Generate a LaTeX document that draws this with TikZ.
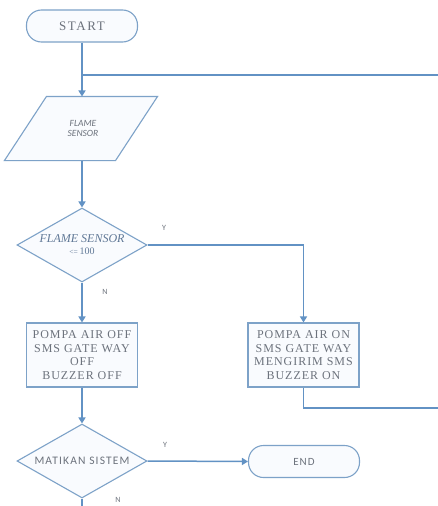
\documentclass[tikz,border=0pt]{standalone}
\usepackage{fontspec}
\setmainfont{Liberation Serif}
\setsansfont{Carlito}
\newfontfamily\spacedsans[LetterSpace=10]{Carlito}
\newfontfamily\spacedserif[LetterSpace=8]{Liberation Serif}
\newfontfamily\startserif[LetterSpace=12]{Liberation Serif}
\usetikzlibrary{shapes.geometric,arrows.meta}
\definecolor{lc}{RGB}{98,146,196}
\definecolor{bc}{RGB}{125,162,200}
\definecolor{tc}{RGB}{108,114,124}
\definecolor{dtc}{RGB}{96,120,150}
\definecolor{fc}{RGB}{249,251,254}
\begin{document}
\begin{tikzpicture}[x=1pt,y=-1pt,
  shapebox/.style={draw=bc, line width=1.1pt, fill=fc, text=tc, align=center, inner sep=0pt},
  term/.style={shapebox, rounded corners=15pt, minimum width=111pt, minimum height=32pt},
  proc/.style={shapebox, minimum width=111pt, minimum height=64pt, font=\spacedserif\fontsize{12}{13.5}\selectfont},
  dec/.style={shapebox, diamond, aspect=1.76, minimum width=130pt, minimum height=74pt},
  conn/.style={draw=lc, line width=1.5pt},
  arr/.style={conn, -{Triangle[width=7pt,length=6pt]}},
  lab/.style={font=\sffamily\fontsize{8}{9}\selectfont, text=tc, inner sep=0pt}]

\fill[white] (0,0) rectangle (438,506);
\useasboundingbox (0,0) rectangle (438,506);

% nodes
\node[term, font=\startserif\fontsize{13}{14}\selectfont] (start) at (82,26) {START};
\node[shapebox, minimum width=110pt, minimum height=63pt, draw=none, fill=none] (fs) at (81,128.5) {};
\filldraw[draw=bc, line width=1.1pt, fill=fc]
  ([xshift=21pt]fs.north west) -- ([xshift=21pt]fs.north east)
  -- ([xshift=-21pt]fs.south east) -- ([xshift=-21pt]fs.south west) -- cycle;
\node[text=tc, align=center, inner sep=0pt, font=\sffamily\itshape\fontsize{9.5}{10.5}\selectfont] (fst) at ([xshift=2pt]fs.center) {FLAME\\SENSOR};
\node[dec, text=dtc] (d1) at (82,245) {{\itshape\fontsize{12}{12}\selectfont FLAME SENSOR}\\[0pt]{\fontsize{7.5}{10}\selectfont <=\ }{\fontsize{10}{10}\selectfont 100}};
\node[proc] (p1) at (82,355) {POMPA AIR OFF\\SMS GATE WAY\\OFF\\BUZZER OFF};
\node[proc] (p2) at (303.5,355) {POMPA AIR ON\\SMS GATE WAY\\MENGIRIM SMS\\BUZZER ON};
\node[dec, font=\spacedsans\fontsize{11.5}{12}\selectfont] (d2) at (82,461) {MATIKAN SISTEM};
\node[term, font=\spacedsans\fontsize{11}{12}\selectfont] (end) at (304,461.5) {END};

% free ends
\coordinate (j1) at (82,75);
\coordinate (r1) at (438,75);
\coordinate (b2) at (303.5,408);
\coordinate (r2) at (438,408);
\coordinate (yc) at (303.5,245);
\coordinate (bot) at (82,506);

% connectors
\draw[arr] (start.south) -- ([xshift=1pt]fs.north);
\draw[conn] (j1) -- (r1);
\draw[arr] (fs.south -| d1.north) -- (d1.north);
\draw[conn] (d1.east) -- (yc);
\draw[arr] (yc) -- (p2.north);
\draw[arr] (d1.south) -- (p1.north);
\draw[conn] (p2.south) -- (b2) -- (r2);
\draw[arr] (p1.south) -- (d2.north);
\draw[arr] (d2.east) -- (end.west);
\draw[conn] (d2.south) -- (bot);

% labels
\node[lab] (ly1) at (164,228) {Y};
\node[lab] (ln1) at (105,292) {N};
\node[lab] (ly2) at (165,445) {Y};
\node[lab] (ln2) at (118,500) {N};
\end{tikzpicture}
\end{document}
